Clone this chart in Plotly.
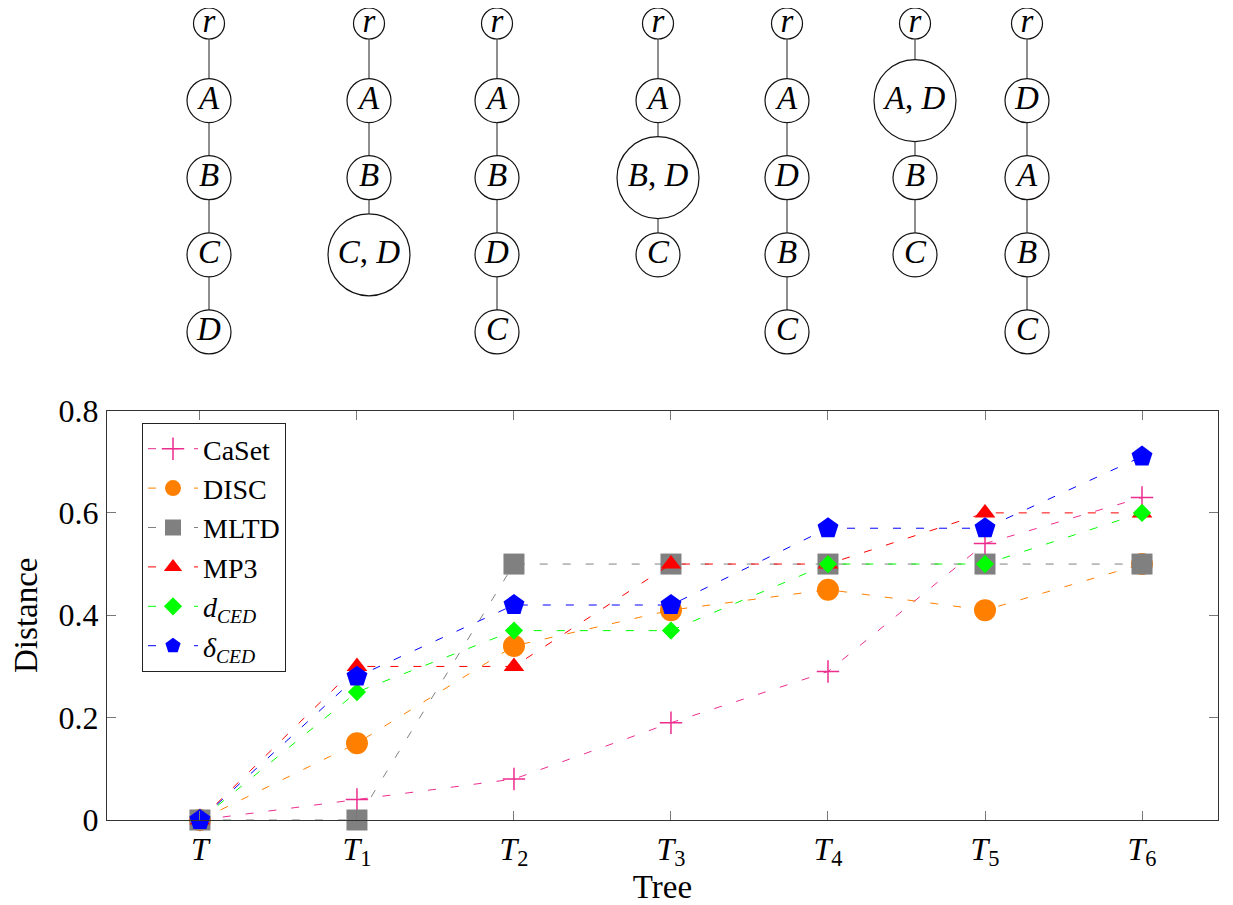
import plotly.graph_objects as go

# ---------------- data ----------------
categories = ["<i>T</i>", "<i>T</i><sub>1</sub>", "<i>T</i><sub>2</sub>", "<i>T</i><sub>3</sub>",
              "<i>T</i><sub>4</sub>", "<i>T</i><sub>5</sub>", "<i>T</i><sub>6</sub>"]
caset = [0.0, 0.04, 0.08, 0.19, 0.29, 0.54, 0.63]
disc = [0.0, 0.15, 0.34, 0.41, 0.45, 0.41, 0.50]
mltd = [0.0, 0.0, 0.50, 0.50, 0.50, 0.50, 0.50]
mp3 = [0.0, 0.30, 0.30, 0.50, 0.50, 0.60, 0.60]
d_ced = [0.0, 0.25, 0.37, 0.37, 0.50, 0.50, 0.60]
delta_ced = [0.0, 0.28, 0.42, 0.42, 0.57, 0.57, 0.71]
y_ticks = [0, 0.2, 0.4, 0.6, 0.8]
y_ticktext = ["0", "0.2", "0.4", "0.6", "0.8"]

# trees drawn above the chart (node labels, root first)
trees = [
    ["r", "A", "B", "C", "D"],
    ["r", "A", "B", "C, D"],
    ["r", "A", "B", "D", "C"],
    ["r", "A", "B, D", "C"],
    ["r", "A", "D", "B", "C"],
    ["r", "A, D", "B", "C"],
    ["r", "D", "A", "B", "C"],
]

# ---------------- layout constants (page pixels) ----------------
OFF = 8                      # default body margin of the html page
W, H = 1233 - OFF, 905 - OFF
PLOT_L, PLOT_R = 107, 1218   # page x of plot-area edges
PLOT_T, PLOT_B = OFF, 820    # page y of plot-area top / bottom (x axis)
ML, MR = PLOT_L - OFF, W - (PLOT_R - OFF)
MT, MB = PLOT_T - OFF, H - (PLOT_B - OFF)
PW, PH = W - ML - MR, H - MT - MB
FONT = "Liberation Serif"
tree_x = [209, 369, 497, 658, 787, 915, 1027]
level_y0, level_dy = 23.5, 77.1
axis_top_y = 410.5

series = [
    ("CaSet", caset, "#EC2D8E", "cross-thin", 16),
    ("DISC", disc, "#FF8000", "circle", 22),
    ("MLTD", mltd, "#808080", "square", 21),
    ("MP3", mp3, "#FF0000", "triangle-up", 18),
    ("<i>d</i><sub><i>CED</i></sub>", d_ced, "#00FF00", "diamond", 14),
    ("<i>δ</i><sub><i>CED</i></sub>", delta_ced, "#0000FF", "pentagon", 22),
]

xs = list(range(len(categories)))
fig = go.Figure()
for name, vals, col, sym, size in series:
    marker = dict(symbol=sym, size=size, color=col)
    if sym == "cross-thin":
        marker["line"] = dict(color=col, width=1.5)
    fig.add_trace(go.Scatter(
        x=xs, y=vals, name=name, mode="lines+markers",
        line=dict(color=col, width=1, dash="8px,15px"),
        marker=marker, cliponaxis=False,
        xaxis="x", yaxis="y"))

# ---------------- trees ----------------
def label_html(s):
    parts = [p.strip() for p in s.split(",")]
    return ", ".join(f"<i>{p}</i>" for p in parts)

def radius(s):
    if "," in s:
        return 41
    if s == "r":
        return 15.5
    return 22

shapes = []
tx, ty, tt = [], [], []
for ti, nodes in enumerate(trees):
    cx = tree_x[ti]
    for li, lab in enumerate(nodes):
        cy = level_y0 + li * level_dy
        r = radius(lab)
        shapes.append(dict(type="circle", xref="x2", yref="y2",
                           x0=cx - r, x1=cx + r, y0=cy - r, y1=cy + r,
                           line=dict(color="#111", width=1.2), layer="above"))
        tx.append(cx); ty.append(cy); tt.append(label_html(lab))
        if li + 1 < len(nodes):
            ny = level_y0 + (li + 1) * level_dy
            nr = radius(nodes[li + 1])
            shapes.append(dict(type="line", xref="x2", yref="y2",
                               x0=cx, x1=cx, y0=cy + r, y1=ny - nr,
                               line=dict(color="#333", width=1.1), layer="above"))

fig.add_trace(go.Scatter(x=tx, y=ty, text=tt, mode="text", showlegend=False,
                         textfont=dict(family=FONT, size=33, color="black"),
                         cliponaxis=False,
                         xaxis="x2", yaxis="y2", hoverinfo="skip"))

# ---------------- layout ----------------
x_lo, x_hi = -0.592, 6.484
y_top_frac = (PLOT_B - axis_top_y) / PH

axis_common = dict(showline=True, linecolor="#333", linewidth=1.2, mirror="ticks",
                   ticks="inside", ticklen=9, tickcolor="#777", tickwidth=1,
                   showgrid=False, zeroline=False,
                   tickfont=dict(family=FONT, size=32, color="black"))

fig.update_layout(
    width=W, height=H,
    margin=dict(l=ML, r=MR, t=MT, b=MB, autoexpand=False),
    paper_bgcolor="white", plot_bgcolor="rgba(0,0,0,0)",
    font=dict(family=FONT, size=32, color="black"),
    xaxis=dict(domain=[0, 1], anchor="y", range=[x_lo, x_hi],
               tickvals=xs, ticktext=categories,
               title=dict(text="Tree", standoff=4, font=dict(family=FONT, size=33)),
               **axis_common),
    yaxis=dict(domain=[0, y_top_frac], anchor="x", range=[0, 0.8],
               tickvals=y_ticks, ticktext=y_ticktext, ticklabelstandoff=1,
               title=dict(text="Distance", standoff=10, font=dict(family=FONT, size=33)),
               **axis_common),
    xaxis2=dict(domain=[0, 1], anchor="y2", range=[PLOT_L, PLOT_R], visible=False,
                fixedrange=True),
    yaxis2=dict(domain=[0, 1], anchor="x2", range=[PLOT_B, PLOT_T], visible=False,
                fixedrange=True),
    shapes=shapes,
    legend=dict(x=(142 - PLOT_L) / PW, y=(PLOT_B - 423) / PH, xanchor="left", yanchor="top",
                bgcolor="white", bordercolor="#222", borderwidth=1,
                font=dict(family=FONT, size=28, color="black"),
                itemwidth=50, tracegroupgap=0),
    showlegend=True,
)

fig.write_html("out.html")
